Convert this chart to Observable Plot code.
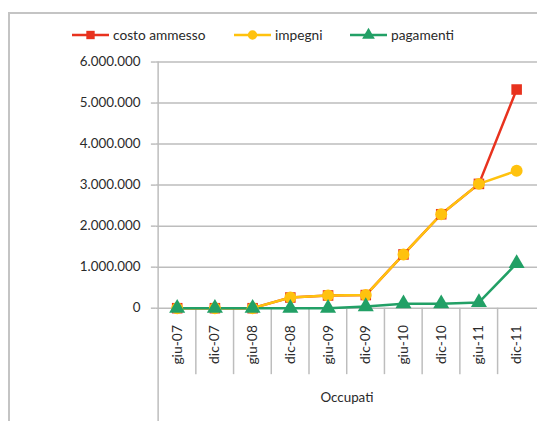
<!DOCTYPE html>
<html><head><meta charset="utf-8">
<script src="https://cdn.jsdelivr.net/npm/d3@7"></script>
<script src="https://cdn.jsdelivr.net/npm/@observablehq/plot@0.6"></script>
<style>
html,body{margin:0;padding:0;background:#fff;overflow:hidden;width:537px;height:421px;font-family:Lato,"Open Sans",sans-serif;}
#wrap{position:relative;width:537px;height:421px;}
#frameL{position:absolute;left:8px;top:12px;width:2px;height:420px;background:#c4c4c4;}
#frameT{position:absolute;left:8px;top:12px;width:540px;height:2px;background:#c4c4c4;}
#legend{position:absolute;top:26px;left:72px;font-size:13.7px;color:#2a2a2a;white-space:nowrap;}
.item{display:flex;align-items:center;position:absolute;}
#chart{position:absolute;left:0;top:0;}
</style></head>
<body><div id="wrap"><div id="frameL"></div><div id="frameT"></div><div id="chart"></div><div id="legend"></div></div>
<script>
const categories = ["giu-07","dic-07","giu-08","dic-08","giu-09","dic-09","giu-10","dic-10","giu-11","dic-11"];
const costoAmmesso = [0,0,0,260000,310000,320000,1310000,2290000,3030000,5330000];
const impegni      = [0,0,0,260000,310000,320000,1310000,2290000,3030000,3350000];
const pagamenti    = [0,0,0,0,0,40000,110000,110000,140000,1090000];
const yTicks = [0,1000000,2000000,3000000,4000000,5000000,6000000];
const seriesNames = ["costo ammesso","impegni","pagamenti"];
const seriesColors = ["#e8321e","#ffc20e","#22a066"];
const seriesSymbols = ["square","circle","triangle"];
const axisLabel = "Occupati";

const series = [costoAmmesso, impegni, pagamenti];
const data = series.flatMap((vals, s) => vals.map((v, i) => ({cat: categories[i], value: v, series: seriesNames[s]})));

const fmt = d3.formatLocale({decimal: ",", thousands: ".", grouping: [3], currency: ["", "€"]}).format(",d");

const W = 541, mL = 157, mT = 62, mB = 111, H = 421;
const bw = (W - mL) / categories.length;
const labelDepth = -1620000; // bottom of category separators (in value units)
const fullDepth = -2800000;

const plot = Plot.plot({
  width: W, height: H,
  marginLeft: mL, marginRight: 0, marginTop: mT, marginBottom: mB,
  style: {fontFamily: "Lato, 'Open Sans', sans-serif", fontSize: "13.5px", color: "#2a2a2a", overflow: "visible"},
  x: {type: "band", domain: categories, padding: 0},
  y: {domain: [0, 6000000]},
  marks: [
    Plot.ruleY(yTicks, {y: d => d, stroke: "#bdbdbd", strokeWidth: 1.5}),
    Plot.axisY({ticks: yTicks, tickFormat: fmt, tickSize: 5, tickPadding: 11, stroke: "#bdbdbd", strokeWidth: 1.5, label: null, fontSize: 13.5}),
    Plot.ruleX(categories.slice(1), {x: d => d, dx: -bw/2, y1: 0, y2: labelDepth, stroke: "#bdbdbd", strokeWidth: 1.5}),
    Plot.ruleX(categories.slice(0,1), {x: d => d, dx: -bw/2, y1: yTicks[yTicks.length-1], y2: fullDepth, stroke: "#bdbdbd", strokeWidth: 1.5}),
    Plot.axisX({tickSize: 0, tickRotate: -90, tickPadding: 17, label: null, fontSize: 14}),
    Plot.text([axisLabel], {frameAnchor: "bottom", dy: 95, fontSize: 13.5}),
    ...seriesNames.map((name, s) => Plot.line(data.filter(d => d.series === name), {x: "cat", y: "value", stroke: seriesColors[s], strokeWidth: 2.5})),
    ...seriesNames.map((name, s) => Plot.dot(data.filter(d => d.series === name), {x: "cat", y: "value", symbol: seriesSymbols[s], fill: seriesColors[s], r: 6}))
  ]
});
document.getElementById("chart").appendChild(plot);

// legend
const legend = document.getElementById("legend");
const legendX = [0, 162, 278];
seriesNames.forEach((name, s) => {
  const item = document.createElement("div");
  item.className = "item";
  item.style.left = legendX[s] + "px";
  const sw = d3.create("svg").attr("width", 38).attr("height", 16);
  sw.append("line").attr("x1", 0).attr("x2", 37).attr("y1", 8).attr("y2", 8).attr("stroke", seriesColors[s]).attr("stroke-width", 2.5);
  const sym = d3.symbol().type(s === 0 ? d3.symbolSquare : s === 1 ? d3.symbolCircle : d3.symbolTriangle).size(70);
  sw.append("path").attr("d", sym()).attr("transform", "translate(18.5,8)").attr("fill", seriesColors[s]);
  item.appendChild(sw.node());
  const t = document.createElement("span");
  t.textContent = name;
  t.style.marginLeft = "3px";
  item.appendChild(t);
  legend.appendChild(item);
});
</script></body></html>
